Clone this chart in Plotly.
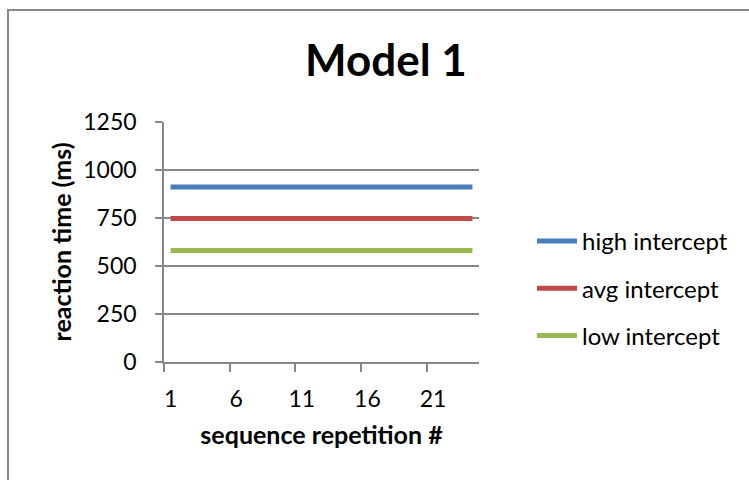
import plotly.graph_objects as go

repetitions = list(range(1, 25))
high_intercept = [912] * 24
avg_intercept = [747] * 24
low_intercept = [581] * 24
series_names = ["high intercept", "avg intercept", "low intercept"]
series_colors = ["#4A7EBB", "#BE4B48", "#98B954"]
x_tick_vals = [1, 6, 11, 16, 21]
x_tick_text = ["1", "6", "11", "16", "21"]
y_tick_vals = [0, 250, 500, 750, 1000, 1250]

FONT = "Lato"
GRID = "#878787"

fig = go.Figure()
for i, (name, vals) in enumerate(zip(series_names, [high_intercept, avg_intercept, low_intercept])):
    fig.add_trace(go.Scatter(
        x=repetitions, y=vals, mode="lines", name=name,
        line=dict(color=series_colors[i], width=5),
        legendgroup=name,
    ))

W, H = 749, 480
ml, mr, mt, mb = 164, 270, 122, 118
pw, ph = W - ml - mr, H - mt - mb

fig.update_layout(
    width=W, height=H,
    margin=dict(l=ml, r=mr, t=mt, b=mb, pad=0),
    paper_bgcolor="white", plot_bgcolor="white",
    font=dict(family=FONT, size=23, color="black"),
    title=dict(text="<b>Model 1</b>", x=(386 - ml) / pw, xref="paper", xanchor="center",
               y=1 - 61 / H, yref="container", yanchor="middle",
               font=dict(size=44, family=FONT, color="black")),
    showlegend=True,
    legend=dict(x=(532 - ml) / pw, xanchor="left", y=1 - (219 - mt) / ph, yanchor="top",
                font=dict(size=24, family=FONT), tracegroupgap=13,
                bgcolor="rgba(0,0,0,0)", itemwidth=40),
    xaxis=dict(range=[0.5, 24.5], tickmode="array", tickvals=x_tick_vals, ticktext=x_tick_text,
               ticks="", showgrid=False, zeroline=False, showline=True, linecolor=GRID, linewidth=1.5,
               ticklabelstandoff=16, tickfont=dict(size=23),
               minor=dict(tickmode="array", tickvals=[0.5, 5.5, 10.5, 15.5, 20.5], ticks="outside",
                          ticklen=8, tickwidth=1.5, tickcolor=GRID, showgrid=False),
               title=dict(text="<b>sequence repetition #</b>", font=dict(size=25, family=FONT), standoff=15)),
    yaxis=dict(range=[0, 1250], tickmode="array", tickvals=y_tick_vals, ticks="outside", ticklen=7,
               tickwidth=1.5, tickcolor=GRID, showgrid=True, gridcolor=GRID, gridwidth=1.5,
               zeroline=False, showline=True, linecolor=GRID, linewidth=1.5, ticklabelstandoff=14,
               tickfont=dict(size=23),
               title=dict(text="<b>reaction time (ms)</b>", font=dict(size=25, family=FONT), standoff=5)),
    shapes=[dict(type="rect", xref="paper", yref="paper",
                 x0=(8 - ml) / pw, x1=(760 - ml) / pw, y0=(mb - (H + 10)) / ph, y1=1 + (mt - 10) / ph,
                 line=dict(color="#888888", width=2), fillcolor="rgba(0,0,0,0)", layer="below")],
)
fig.write_html("out.html")
